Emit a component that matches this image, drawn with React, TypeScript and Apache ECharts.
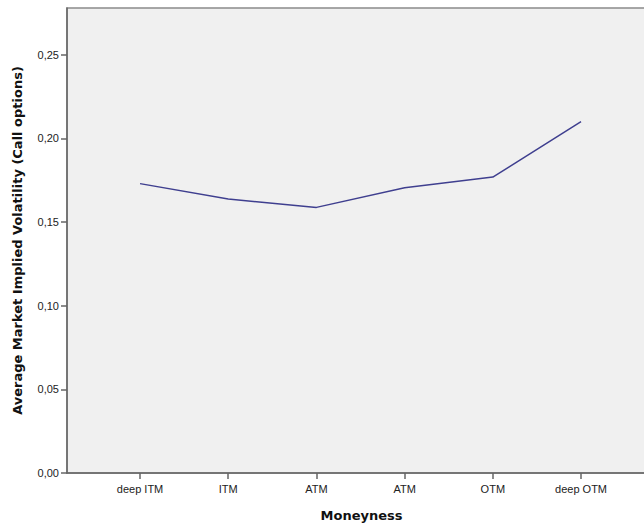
import React, { useEffect, useRef } from "react";
import * as echarts from "echarts";

// Moneyness buckets on the category axis
const categories: string[] = ["deep ITM", "ITM", "ATM", "ATM", "OTM", "deep OTM"];
// Average market implied volatility of call options per bucket
const volatility: number[] = [0.173, 0.1638, 0.1588, 0.1706, 0.1769, 0.2101];
// Y axis tick values
const yTicks: number[] = [0, 0.05, 0.1, 0.15, 0.2, 0.25];

const axisGray = "#666666";
const labelFont = "'Liberation Sans', Arial, sans-serif";
const titleFont = "'DejaVu Sans', Verdana, sans-serif";

export default function App() {
  const ref = useRef<HTMLDivElement>(null);

  useEffect(() => {
    if (!ref.current) return;
    const chart = echarts.init(ref.current, undefined, { renderer: "svg" });
    const idx = categories.map((_, i) => i);
    chart.setOption({
      animation: false,
      backgroundColor: "#ffffff",
      grid: {
        left: 67,
        top: 8,
        right: -12,
        bottom: 52,
        show: true,
        backgroundColor: "#f0f0f0",
        borderColor: "#8a8a8a",
        borderWidth: 1.5,
        outerBoundsMode: "none",
      },
      xAxis: {
        type: "value",
        min: -0.828,
        max: 5.85,
        name: "Moneyness",
        nameLocation: "middle",
        nameGap: 36,
        nameTextStyle: {
          fontFamily: titleFont,
          fontWeight: "bold",
          fontSize: 13,
          color: "#111111",
        },
        splitLine: { show: false },
        axisLine: { show: true, onZero: false, lineStyle: { color: axisGray, width: 1.5 } },
        axisTick: {
          show: true,
          length: 6,
          customValues: idx,
          lineStyle: { color: axisGray, width: 1.5 },
        },
        axisLabel: {
          customValues: idx,
          margin: 10,
          fontFamily: labelFont,
          fontSize: 11,
          color: "#222222",
          formatter: (v: number) => categories[Math.round(v)] ?? "",
        },
      },
      yAxis: {
        type: "value",
        min: 0,
        max: 0.278,
        name: "Average Market Implied Volatility (Call options)",
        nameLocation: "middle",
        nameGap: 43,
        nameTextStyle: {
          fontFamily: titleFont,
          fontWeight: "bold",
          fontSize: 13,
          color: "#111111",
        },
        splitLine: { show: false },
        axisLine: { show: true, onZero: false, lineStyle: { color: axisGray, width: 1.5 } },
        axisTick: {
          show: true,
          length: 6,
          customValues: yTicks,
          lineStyle: { color: axisGray, width: 1.5 },
        },
        axisLabel: {
          customValues: yTicks,
          margin: 8,
          fontFamily: labelFont,
          fontSize: 11,
          color: "#222222",
          formatter: (v: number) => v.toFixed(2).replace(".", ","),
        },
      },
      series: [
        {
          type: "line",
          data: volatility.map((v, i) => [i, v]),
          showSymbol: false,
          symbol: "none",
          lineStyle: { color: "#3f3f8f", width: 1.5 },
        },
      ],
    });
    return () => chart.dispose();
  }, []);

  return (
    <div
      ref={ref}
      style={{ position: "fixed", left: 0, top: 0, width: 644, height: 525 }}
    />
  );
}
